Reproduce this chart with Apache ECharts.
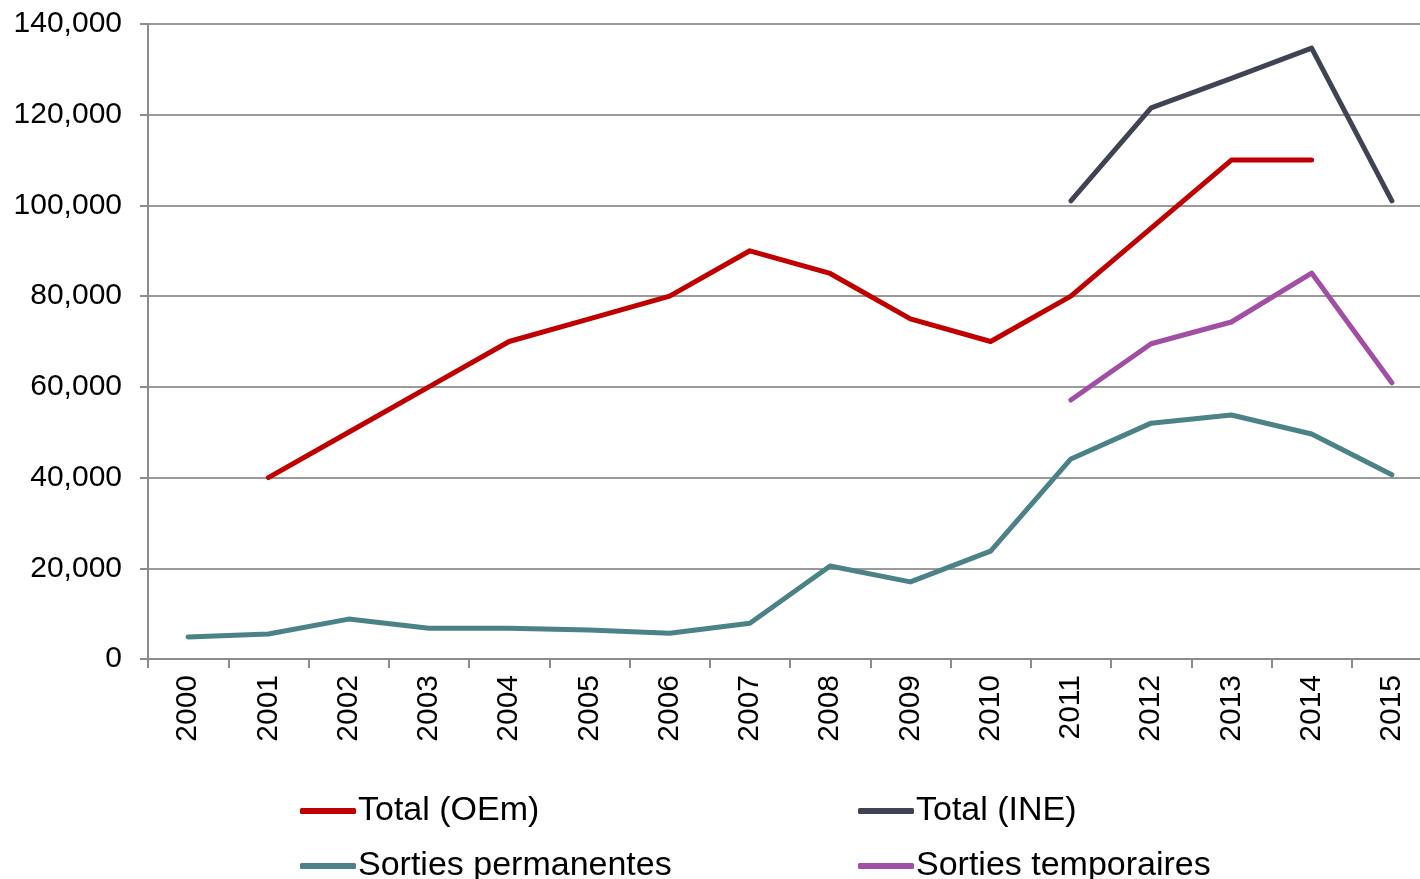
<!DOCTYPE html>
<html>
<head>
<meta charset="utf-8">
<script src="https://cdn.jsdelivr.net/npm/echarts@6/dist/echarts.min.js"></script>
<style>
  html, body { margin: 0; padding: 0; background: #fff; overflow: hidden; }
  #chart { width: 1420px; height: 879px; }
</style>
</head>
<body>
<div id="chart"></div>
<script>
// data
const years = ['2000', '2001', '2002', '2003', '2004', '2005', '2006', '2007',
  '2008', '2009', '2010', '2011', '2012', '2013', '2014', '2015']
const totalOEm = [null, 40000, 50000, 60000, 70000, 75000, 80000, 90000,
  85000, 75000, 70000, 80000, 95000, 110000, 110000, null]
const totalINE = [null, null, null, null, null, null, null, null,
  null, null, null, 101000, 121500, 128000, 134700, 101000]
const sortiesPerm = [4850, 5500, 8800, 6800, 6800, 6400, 5700, 7900,
  20500, 17000, 23800, 44100, 52000, 53800, 49600, 40600]
const sortiesTemp = [null, null, null, null, null, null, null, null,
  null, null, null, 57100, 69500, 74300, 85100, 60900]

const font = 'Liberation Sans, Arial, sans-serif'
const chart = echarts.init(document.getElementById('chart'))

function lineSeries(name, data, color) {
  return {
    type: 'line',
    name: name,
    data: data,
    symbol: 'none',
    connectNulls: false,
    lineStyle: { color: color, width: 5, cap: 'round', join: 'round' },
    itemStyle: { color: color },
    emphasis: { disabled: true },
  }
}

const legendCommon = {
  orient: 'vertical',
  top: 789,
  height: 100,
  itemWidth: 56,
  itemHeight: 6,
  itemGap: 21,
  icon: 'roundRect',
  textStyle: { fontFamily: font, fontSize: 34, lineHeight: 32, color: '#000', padding: [0, 0, 0, -3] },
}

chart.setOption({
  animation: false,
  // plot runs past the right edge of the picture, as in the reference
  grid: { left: 148, width: 1284, top: 24, bottom: 220, outerBoundsMode: 'none', containLabel: false },
  legend: [
    Object.assign({ left: 295, data: ['Total (OEm)', 'Sorties permanentes'] }, legendCommon),
    Object.assign({ left: 853, data: ['Total (INE)', 'Sorties temporaires'] }, legendCommon),
  ],
  xAxis: {
    type: 'category',
    data: years,
    boundaryGap: true,
    axisLine: { lineStyle: { color: '#8c8c8c', width: 2 } },
    axisTick: { show: true, interval: 0, length: 9, lineStyle: { color: '#8c8c8c', width: 2 } },
    axisLabel: {
      interval: 0,
      rotate: 90,
      margin: 16,
      fontFamily: font,
      fontSize: 30,
      color: '#000',
    },
    splitLine: { show: false },
  },
  yAxis: {
    type: 'value',
    min: 0,
    max: 140000,
    interval: 20000,
    axisLine: { show: true, lineStyle: { color: '#8c8c8c', width: 2 } },
    axisTick: { show: true, length: 8, lineStyle: { color: '#8c8c8c', width: 2 } },
    axisLabel: {
      margin: 26,
      fontFamily: font,
      fontSize: 30,
      color: '#000',
      formatter: (v) => v.toLocaleString('en-US'),
    },
    splitLine: { lineStyle: { color: '#9a9a9a', width: 2 } },
  },
  series: [
    lineSeries('Total (OEm)', totalOEm, '#c00000'),
    lineSeries('Total (INE)', totalINE, '#404354'),
    lineSeries('Sorties permanentes', sortiesPerm, '#4a8287'),
    lineSeries('Sorties temporaires', sortiesTemp, '#a24ea5'),
  ],
})
</script>
</body>
</html>
